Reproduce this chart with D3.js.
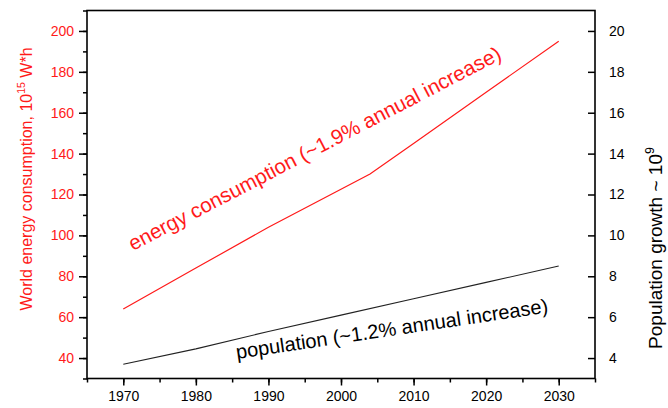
<!DOCTYPE html>
<html>
<head>
<meta charset="utf-8">
<script src="https://cdn.jsdelivr.net/npm/d3@7"></script>
<style>
  body { margin: 0; background: #fff; }
  text { font-family: "Liberation Sans", Arial, sans-serif; }
</style>
</head>
<body>
<script>
const width = 668,
  height = 408;

const margin = { top: 10.5, right: 73, bottom: 29.5, left: 87 };
const innerWidth = width - margin.left - margin.right;
const innerHeight = height - margin.top - margin.bottom;

// data
const years = [1970, 1980, 1990, 2004, 2010, 2020, 2030];
const energy = [64, 84, 104, 130, 145, 170, 195];
const popYears = [1970, 1980, 1990, 2000, 2010, 2020, 2030];
const population = [3.7, 4.45, 5.3, 6.1, 6.9, 7.7, 8.5];

const xTicks = [1970, 1980, 1990, 2000, 2010, 2020, 2030];
const leftTicks = [40, 60, 80, 100, 120, 140, 160, 180, 200];
const rightTicks = [4, 6, 8, 10, 12, 14, 16, 18, 20];

const red = "#ff1a1a";

const xScale = d3.scaleLinear().domain([1965, 2035]).range([0, innerWidth]);
const yLeft = d3.scaleLinear().domain([30, 210]).range([innerHeight, 0]);
const yRight = d3.scaleLinear().domain([3, 21]).range([innerHeight, 0]);

const svg = d3
  .select("body")
  .append("svg")
  .attr("width", width)
  .attr("height", height);

const g = svg
  .append("g")
  .attr("transform", `translate(${margin.left}, ${margin.top})`);

// minor ticks first (no labels)
g.append("g")
  .attr("transform", `translate(0,${innerHeight})`)
  .call(d3.axisBottom(xScale).tickValues(d3.range(1965, 2036, 5)).tickSize(4).tickFormat(""))
  .call(a => a.select(".domain").remove())
  .call(a => a.selectAll("text").remove());

g.append("g")
  .call(d3.axisLeft(yLeft).tickValues(d3.range(30, 211, 10)).tickSize(4).tickFormat(""))
  .call(a => a.select(".domain").remove())
  .call(a => a.selectAll("text").remove());

// x axis
const xAxisG = g
  .append("g")
  .attr("transform", `translate(0,${innerHeight})`)
  .call(d3.axisBottom(xScale).tickValues(xTicks).tickSize(7).tickPadding(6).tickFormat(d3.format("d")));
xAxisG.select(".domain").remove();
xAxisG.selectAll("text").attr("font-size", 14).attr("fill", "#000");

// left axis
const leftG = g
  .append("g")
  .call(d3.axisLeft(yLeft).tickValues(leftTicks).tickSize(8).tickPadding(5));
leftG.select(".domain").remove();
leftG.selectAll("text").attr("font-size", 14).attr("fill", red);

// right axis (ticks point inward)
const rightG = g
  .append("g")
  .attr("transform", `translate(${innerWidth},0)`)
  .call(d3.axisRight(yRight).tickValues(rightTicks).tickSize(-7).tickPadding(14));
rightG.select(".domain").remove();
rightG.selectAll("text").attr("font-size", 14).attr("fill", "#000");

svg.selectAll(".tick line").attr("stroke", "#000").attr("stroke-width", 1.5);

// frame
g.append("rect")
  .attr("width", innerWidth)
  .attr("height", innerHeight)
  .attr("fill", "none")
  .attr("stroke", "#000")
  .attr("stroke-width", 1.6);

// lines
const energyLine = d3
  .line()
  .x((d, i) => xScale(years[i]))
  .y(d => yLeft(d));

g.append("path")
  .datum(energy)
  .attr("d", energyLine)
  .attr("fill", "none")
  .attr("stroke", red)
  .attr("stroke-width", 1.2);

const popLine = d3
  .line()
  .x((d, i) => xScale(popYears[i]))
  .y(d => yRight(d));

g.append("path")
  .datum(population)
  .attr("d", popLine)
  .attr("fill", "none")
  .attr("stroke", "#222")
  .attr("stroke-width", 1.1);

// annotations
svg.append("text")
  .attr("transform", "translate(133,251) rotate(-27.5)")
  .attr("font-size", 20.7)
  .attr("fill", red)
  .text("energy consumption (~1.9% annual increase)");

svg.append("text")
  .attr("transform", "translate(237,359) rotate(-8.5)")
  .attr("font-size", 20)
  .attr("fill", "#000")
  .text("population (~1.2% annual increase)");

// axis titles
const leftTitle = svg.append("text")
  .attr("transform", "translate(32,179) rotate(-90)")
  .attr("text-anchor", "middle")
  .attr("font-size", 16)
  .attr("fill", red);
leftTitle.append("tspan").text("World energy consumption, 10");
leftTitle.append("tspan").attr("dy", -7).attr("font-size", 10.5).text("15");
leftTitle.append("tspan").attr("dy", 7).text(" W*h");

const rightTitle = svg.append("text")
  .attr("transform", "translate(662,248) rotate(-90)")
  .attr("text-anchor", "middle")
  .attr("font-size", 19)
  .attr("fill", "#000");
rightTitle.append("tspan").text("Population growth ~ 10");
rightTitle.append("tspan").attr("dy", -8).attr("font-size", 12.5).text("9");
</script>
</body>
</html>
